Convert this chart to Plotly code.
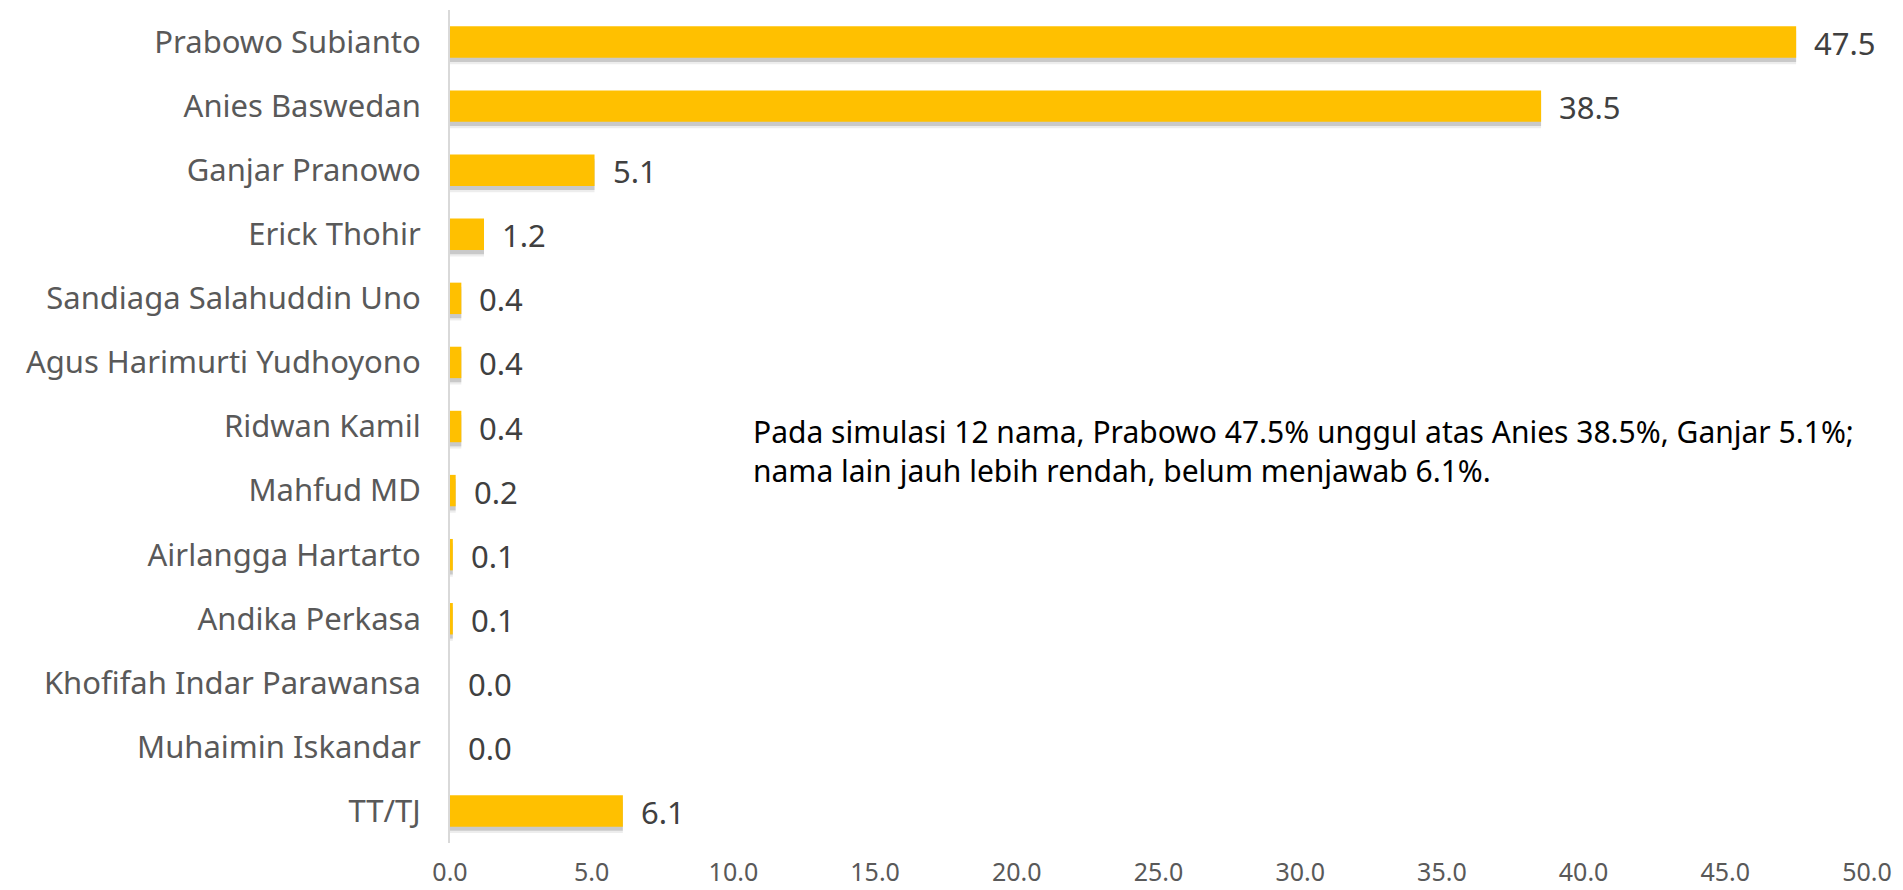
import plotly.graph_objects as go

categories = [
    "Prabowo Subianto", "Anies Baswedan", "Ganjar Pranowo", "Erick Thohir",
    "Sandiaga Salahuddin Uno", "Agus Harimurti Yudhoyono", "Ridwan Kamil",
    "Mahfud MD", "Airlangga Hartarto", "Andika Perkasa",
    "Khofifah Indar Parawansa", "Muhaimin Iskandar", "TT/TJ",
]
values = [47.5, 38.5, 5.1, 1.2, 0.4, 0.4, 0.4, 0.2, 0.1, 0.1, 0.0, 0.0, 6.1]
x_ticks = [0, 5, 10, 15, 20, 25, 30, 35, 40, 45, 50]
note_text = ("Pada simulasi 12 nama, Prabowo 47.5% unggul atas Anies 38.5%, Ganjar 5.1%;"
             "<br>nama lain jauh lebih rendah, belum menjawab 6.1%.")

FONT = "Noto Sans"
BAR_W = 0.49

fig = go.Figure()
# soft shadow layers
for alpha, shift in [(0.07, 0.10), (0.15, 0.065)]:
    fig.add_trace(go.Bar(
        x=values, y=categories, orientation="h",
        marker=dict(color=f"rgba(0,0,0,{alpha})", line=dict(width=0)),
        width=BAR_W, offset=-BAR_W / 2 + shift,
        hoverinfo="skip", showlegend=False,
    ))
fig.add_trace(go.Bar(
    x=values, y=categories, orientation="h",
    marker=dict(color="#FFC000", line=dict(width=0)),
    width=BAR_W, offset=-BAR_W / 2,
    showlegend=False,
))

for c, v in zip(categories, values):
    fig.add_annotation(
        x=v, y=c, xref="x", yref="y", text=f"{v:.1f}",
        showarrow=False, xanchor="left", yanchor="middle",
        xshift=16, yshift=-1,
        font=dict(family=FONT, size=31, color="#404040"),
    )

fig.add_annotation(
    x=0.2125, y=0.47, xref="paper", yref="paper", text=note_text,
    showarrow=False, xanchor="left", yanchor="middle", align="left",
    font=dict(family=FONT, size=30, color="#000000"),
)

# page body has an 8px margin: figure sized/margined to land plot area at
# viewport x 450..1867, y 10..843
fig.update_layout(
    width=1895, height=882,
    margin=dict(l=442, r=36, t=2, b=47),
    barmode="overlay",
    plot_bgcolor="white", paper_bgcolor="white",
    font=dict(family=FONT, color="#595959"),
    xaxis=dict(
        range=[0, 50], tickvals=x_ticks,
        ticktext=[f"{t:.1f}" for t in x_ticks],
        showgrid=False, zeroline=False, showline=False,
        ticks="", ticklabelstandoff=12, automargin=False,
        tickfont=dict(family=FONT, size=25, color="#595959"),
    ),
    yaxis=dict(
        categoryorder="array", categoryarray=categories,
        autorange="reversed",
        showgrid=False, zeroline=False,
        showline=True, linecolor="#D9D9D9", linewidth=2,
        ticks="", ticklabelstandoff=21, automargin=False,
        tickfont=dict(family=FONT, size=31, color="#595959"),
    ),
)

fig.write_html("out.html")
